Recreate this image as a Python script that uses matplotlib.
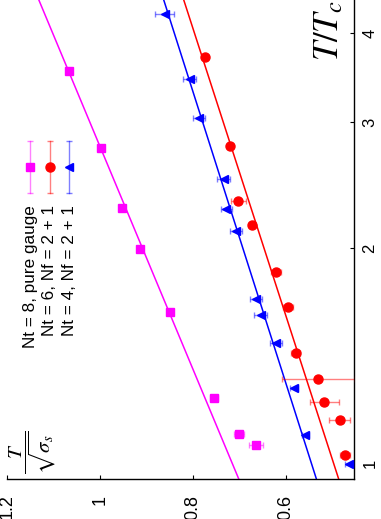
import matplotlib
matplotlib.use("Agg")
from matplotlib import pyplot as plt
from matplotlib.ticker import FixedLocator, NullLocator, FixedFormatter

# chart is drawn already turned on its side: T/sqrt(sigma_s) runs right-to-left,
# T/Tc (log) runs bottom-to-top

#----------------DATA------------------------------------------
# Nt = 8, pure gauge
t8 = [3.545, 2.765, 2.274, 1.992, 1.629, 1.232, 1.097, 1.0615]
v8 = [1.068, 0.999, 0.952, 0.915, 0.849, 0.755, 0.701, 0.665]
e8 = [0.006, 0.006, 0.006, 0.006, 0.006, 0.009, 0.011, 0.015]

# Nt = 6, Nf = 2 + 1
t6 = [3.70, 2.783, 2.331, 2.155, 1.85, 1.654, 1.426, 1.31, 1.2175, 1.148, 1.026]
v6 = [0.775, 0.721, 0.702, 0.672, 0.621, 0.595, 0.579, 0.5295, 0.5166, 0.4836, 0.4722]
e6 = [0.004, 0.004, 0.017, 0.004, 0.011, 0.01, 0.009, 0.079, 0.031, 0.023, 0.01]

# Nt = 4, Nf = 2 + 1
t4 = [4.256, 3.448, 3.040, 2.4996, 2.269, 2.1157, 1.6956, 1.612, 1.471, 1.273, 1.0935, 0.996]
v4 = [0.861, 0.807, 0.7875, 0.7336, 0.7278, 0.7078, 0.6647, 0.6539, 0.6216, 0.5823, 0.558, 0.4636]
e4 = [0.020, 0.0144, 0.013, 0.0137, 0.0126, 0.013, 0.0126, 0.014, 0.013, 0.008, 0.008, 0.008]

# fit lines (end points)
fit_t = [0.949, 4.45]
fit8 = [0.701, 1.132]
fit6 = [0.4858, 0.8198]
fit4 = [0.5338, 0.8629]

labels = ["Nt = 8, pure gauge", "Nt = 6, Nf = 2 + 1", "Nt = 4, Nf = 2 + 1"]
colors = ["#ff00ff", "#ff0000", "#0000ff"]
markers = ["s", "o", "<"]
msizes = [6, 6.5, 5.5]

xticks = [0.6, 0.8, 1.0, 1.2]
xticklabels = ["0.6", "0.8", "1", "1.2"]
yticks = [1, 2, 3, 4]
yticklabels = ["1", "2", "3", "4"]

#----------------PLOT------------------------------------------
plt.rcParams["font.family"] = "Liberation Sans"
plt.rcParams["mathtext.fontset"] = "stix"

fig = plt.figure(figsize=(3.81, 5.19), dpi=100)
ax = fig.add_axes([7.3 / 381, 1 - 479.3 / 519, (354 - 7.3) / 381, 479.3 / 519])

series = [(t8, v8, e8, fit8), (t6, v6, e6, fit6), (t4, v4, e4, fit4)]
for (t, v, e, fit), c, m, ms in zip(series, colors, markers, msizes):
    ax.plot(fit, fit_t, color=c, lw=1.1, zorder=2)
    ax.errorbar(v, t, xerr=e, fmt="none", ecolor=c, alpha=0.5, elinewidth=1, capsize=2.5, capthick=1, zorder=3)
    ax.plot(v, t, ls="none", marker=m, ms=ms, color=c, mec=c, zorder=4)

ax.set_xlim(1.2, 0.453)
ax.set_yscale("log")
ax.set_ylim(0.949, 4.45)

ax.spines["top"].set_visible(False)
ax.spines["left"].set_visible(False)
ax.spines["bottom"].set_linewidth(1.0)
ax.spines["right"].set_linewidth(1.0)

ax.xaxis.set_major_locator(FixedLocator(xticks))
ax.xaxis.set_major_formatter(FixedFormatter(xticklabels))
ax.yaxis.set_major_locator(FixedLocator(yticks))
ax.yaxis.set_major_formatter(FixedFormatter(yticklabels))
ax.yaxis.set_minor_locator(NullLocator())
ax.yaxis.tick_right()
ax.tick_params(axis="x", direction="in", length=3, pad=11, labelsize=13, labelrotation=90)
ax.tick_params(axis="y", direction="in", length=3, pad=6, labelsize=12, labelrotation=90)
for lab in ax.get_yticklabels():
    lab.set_va("center")

#----------------AXIS TITLES-----------------------------------
ax.text(0.928, 0.873, r"$T/T_c$", rotation=90, ha="center", va="bottom",
        fontsize=25, transform=ax.transAxes, clip_on=False)
ax.text(0.074, 0.057, r"$\dfrac{T}{\sqrt{\sigma_s}}$", rotation=90, ha="center", va="center",
        fontsize=15, transform=ax.transAxes)

#----------------LEGEND (by hand, rotated)---------------------
leg_x = [0.0655, 0.123, 0.178]
leg_y = 0.652
leg_e = 0.0543
for lx, lab, c, m, ms in zip(leg_x, labels, colors, markers, msizes):
    ax.plot([lx, lx], [leg_y - leg_e, leg_y + leg_e], color=c, alpha=0.5, lw=1, transform=ax.transAxes)
    ax.plot([lx, lx], [leg_y - leg_e, leg_y + leg_e], ls="none", marker="_", ms=5, mew=1,
            color=c, alpha=0.5, transform=ax.transAxes)
    ax.plot([lx], [leg_y], ls="none", marker=m, ms=ms, color=c, transform=ax.transAxes)
    ax.text(lx, 0.572, lab, rotation=90, ha="center", va="top", fontsize=12.3, transform=ax.transAxes)

fig.savefig("out.png", dpi=100)
